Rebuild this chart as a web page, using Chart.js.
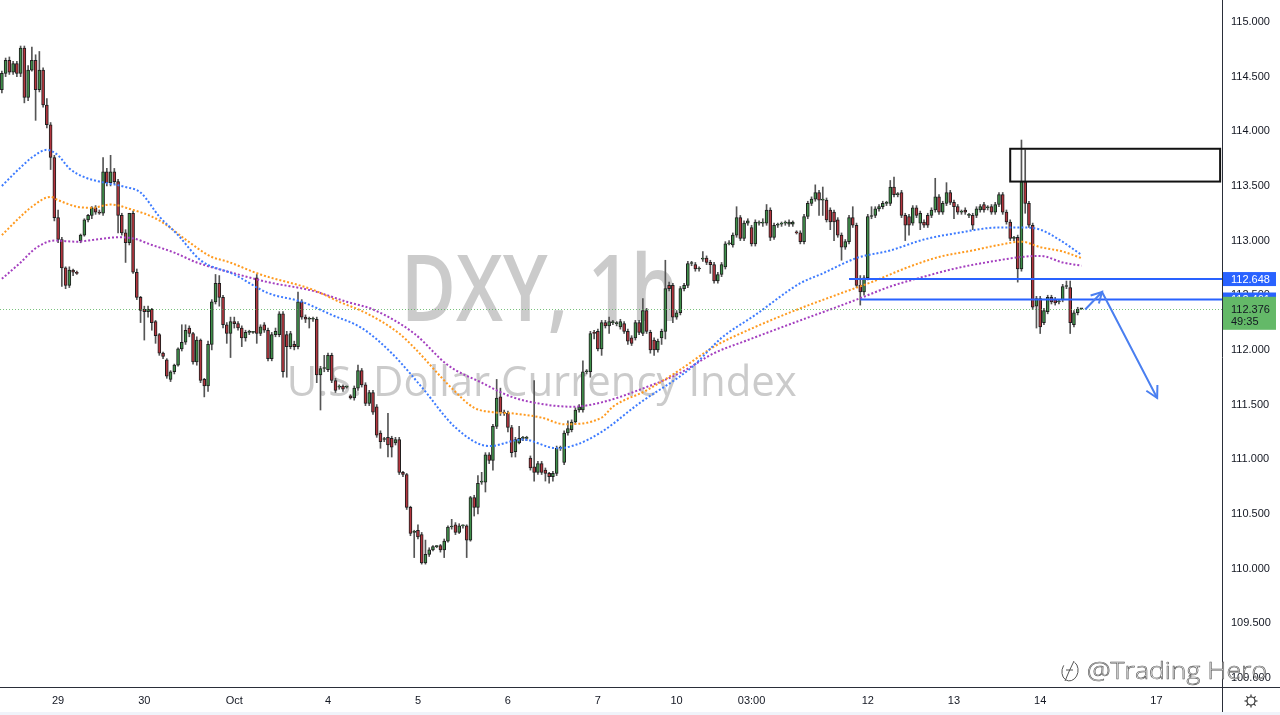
<!DOCTYPE html>
<html>
<head>
<meta charset="utf-8">
<title>DXY, 1h</title>
<script src="https://cdn.jsdelivr.net/npm/chart.js"></script>
<style>
  html, body { margin: 0; padding: 0; background: #ffffff; }
  #wrap { width: 1280px; height: 715px; position: relative; }
</style>
</head>
<body>
<div id="wrap"><canvas id="dxyChart" width="1280" height="715"></canvas></div>
<script>
// Hourly DXY candles (one row = 10 candles)
const opens = [
  114.38,114.53,114.65,114.54,114.62,114.53,114.76,114.31,114.56,114.65,
  114.38,114.56,114.24,114.06,113.76,113.21,113.01,112.75,112.59,112.73,
  112.71,113.00,113.05,113.19,113.23,113.30,113.26,113.25,113.63,113.53,
  113.63,113.54,113.23,113.07,112.98,113.25,112.71,112.48,112.37,112.35,
  112.37,112.26,112.14,111.97,111.91,111.73,111.80,111.86,112.01,112.07,
  112.20,112.15,111.89,112.09,111.73,111.67,112.05,112.44,112.61,112.48,
  112.23,112.15,112.26,112.24,112.20,112.11,112.16,112.16,112.66,112.15,
  112.23,112.18,111.92,112.14,112.14,112.33,112.14,112.03,112.05,112.03,
  112.44,112.30,112.28,112.28,112.28,111.77,111.83,111.82,111.95,111.72,
  111.66,111.67,111.66,111.58,111.56,111.65,111.81,111.68,111.51,111.61,
  111.48,111.24,111.18,111.20,111.19,111.15,111.18,110.88,110.86,110.56,
  110.33,110.35,110.31,110.05,110.13,110.17,110.20,110.21,110.17,110.25,
  110.38,110.40,110.33,110.39,110.39,110.26,110.65,110.56,110.79,110.79,
  111.04,110.99,111.30,111.57,111.43,111.42,111.29,111.07,111.15,111.19,
  111.19,111.01,110.93,110.88,110.96,110.90,110.87,110.84,110.87,111.10,
  110.97,111.24,111.27,111.34,111.45,111.45,111.80,111.80,112.16,112.17,
  112.01,112.25,112.22,112.25,112.24,112.21,112.24,112.17,112.11,112.11,
  112.25,112.15,112.36,112.16,112.09,112.00,112.11,112.17,112.59,112.59,
  112.30,112.34,112.56,112.59,112.79,112.78,112.74,112.83,112.84,112.80,
  112.78,112.63,112.69,112.76,112.97,112.96,113.05,113.21,113.02,113.16,
  113.12,112.97,113.16,113.16,113.16,113.28,113.03,113.14,113.15,113.16,
  113.15,113.15,113.08,113.07,112.99,113.22,113.34,113.38,113.44,113.37,
  113.37,113.28,113.26,113.19,113.05,112.94,112.99,113.21,113.14,112.59,
  112.53,112.66,113.22,113.23,113.29,113.31,113.34,113.34,113.49,113.42,
  113.44,113.23,113.22,113.16,113.30,113.16,113.17,113.23,113.23,113.28,
  113.40,113.26,113.34,113.44,113.35,113.31,113.26,113.28,113.23,113.23,
  113.23,113.28,113.33,113.30,113.31,113.26,113.33,113.42,113.26,113.17,
  113.02,113.03,112.74,113.54,113.34,113.14,112.40,112.47,112.25,112.35,
  112.48,112.46,112.44,112.46,112.58,112.57,112.23,112.34,112.376
];
const highs = [
  114.55,114.67,114.68,114.64,114.64,114.78,114.78,114.60,114.77,114.70,
  114.73,114.58,114.30,114.08,113.78,113.28,113.03,112.76,112.76,112.74,
  112.72,113.06,113.20,113.24,113.31,113.32,113.28,113.76,113.66,113.78,
  113.66,113.56,113.25,113.10,113.25,113.27,112.74,112.49,112.40,112.40,
  112.38,112.27,112.15,111.98,111.92,111.81,111.87,112.02,112.23,112.23,
  112.22,112.16,112.12,112.10,111.74,112.08,112.46,112.69,112.68,112.50,
  112.25,112.30,112.30,112.26,112.22,112.18,112.18,112.17,112.69,112.23,
  112.25,112.20,112.16,112.20,112.35,112.35,112.17,112.17,112.08,112.53,
  112.46,112.32,112.30,112.30,112.30,111.85,111.95,111.97,111.97,111.74,
  111.68,111.68,111.67,111.59,111.67,111.86,111.83,111.70,111.63,111.63,
  111.50,111.26,111.20,111.42,111.21,111.20,111.20,110.89,110.87,110.57,
  110.35,110.40,110.33,110.26,110.19,110.21,110.21,110.22,110.27,110.39,
  110.45,110.42,110.41,110.40,110.40,110.66,110.67,110.85,110.88,111.06,
  111.06,111.32,111.73,111.65,111.45,111.44,111.31,111.20,111.30,111.21,
  111.21,111.03,111.72,110.98,110.98,110.92,110.88,110.89,111.12,111.12,
  111.26,111.35,111.36,111.47,111.50,111.90,111.82,112.17,112.18,112.19,
  112.27,112.27,112.30,112.27,112.26,112.28,112.26,112.19,112.13,112.27,
  112.27,112.47,112.38,112.18,112.11,112.10,112.19,112.82,112.62,112.61,
  112.36,112.58,112.61,112.81,112.81,112.80,112.76,112.90,112.86,112.82,
  112.80,112.71,112.80,112.99,113.00,113.07,113.31,113.23,113.18,113.20,
  113.14,113.19,113.18,113.20,113.33,113.30,113.16,113.16,113.17,113.18,
  113.19,113.18,113.09,113.09,113.24,113.36,113.40,113.51,113.46,113.49,
  113.39,113.30,113.28,113.21,113.07,113.01,113.23,113.31,113.16,112.68,
  112.68,113.24,113.31,113.31,113.33,113.36,113.36,113.55,113.58,113.44,
  113.46,113.25,113.24,113.32,113.32,113.27,113.19,113.25,113.30,113.57,
  113.42,113.36,113.53,113.46,113.37,113.33,113.28,113.30,113.25,113.25,
  113.31,113.33,113.35,113.32,113.33,113.35,113.44,113.44,113.28,113.19,
  113.04,113.05,113.92,113.83,113.36,113.16,112.49,112.49,112.38,112.50,
  112.50,112.48,112.46,112.60,112.63,112.63,112.36,112.39,112.38
];
const lows = [
  114.35,114.50,114.52,114.52,114.50,114.50,114.26,114.28,114.55,114.10,
  114.36,114.22,114.03,113.65,113.18,112.98,112.58,112.56,112.57,112.68,
  112.69,112.98,113.04,113.17,113.20,113.24,113.24,113.23,113.50,113.50,
  113.52,113.07,113.05,112.80,112.96,112.70,112.46,112.25,112.09,112.30,
  112.18,112.06,111.95,111.92,111.74,111.71,111.78,111.85,111.99,112.05,
  112.12,111.87,111.86,111.70,111.57,111.62,112.00,112.42,112.40,112.20,
  112.06,111.93,112.20,112.18,112.03,112.08,112.14,112.15,112.06,112.13,
  112.16,111.90,111.90,112.12,112.12,111.75,111.75,112.01,112.00,112.01,
  112.28,112.25,112.20,112.26,111.70,111.45,111.80,111.80,111.70,111.61,
  111.64,111.62,111.65,111.55,111.54,111.63,111.66,111.49,111.49,111.41,
  111.20,111.10,111.16,111.02,111.02,111.13,110.86,110.84,110.54,110.30,
  110.10,110.27,110.04,110.04,110.11,110.16,110.19,110.15,110.10,110.24,
  110.36,110.31,110.32,110.37,110.10,110.25,110.48,110.50,110.77,110.70,
  110.96,110.90,111.28,111.40,111.40,111.25,111.02,111.02,111.14,111.17,
  111.17,110.90,110.80,110.86,110.86,110.80,110.78,110.80,110.85,111.08,
  110.95,111.22,111.25,111.32,111.43,111.43,111.78,111.75,112.10,111.99,
  111.95,112.20,112.15,112.23,112.22,112.19,112.15,112.05,112.04,112.09,
  112.14,112.13,112.15,111.97,111.95,111.98,112.05,112.10,112.54,112.25,
  112.28,112.32,112.54,112.57,112.77,112.72,112.72,112.81,112.78,112.70,
  112.61,112.61,112.67,112.74,112.96,112.94,113.03,113.00,113.00,113.14,
  112.95,112.95,113.14,113.13,113.14,113.00,113.01,113.12,113.13,113.14,
  113.13,113.13,113.06,112.97,112.97,113.20,113.32,113.36,113.23,113.23,
  113.17,113.10,113.00,113.03,112.82,112.92,112.97,113.12,112.57,112.41,
  112.50,112.64,113.20,113.21,113.27,113.29,113.32,113.32,113.40,113.40,
  113.21,113.00,113.05,113.14,113.21,113.10,113.12,113.12,113.21,113.26,
  113.24,113.24,113.32,113.33,113.20,113.24,113.24,113.24,113.21,113.10,
  113.21,113.26,113.26,113.28,113.24,113.24,113.31,113.24,113.15,113.00,
  113.00,112.62,112.72,113.25,113.12,112.37,112.20,112.15,112.23,112.33,
  112.42,112.41,112.42,112.44,112.56,112.15,112.21,112.32,112.37
];
const closes = [
  114.53,114.65,114.54,114.62,114.53,114.76,114.31,114.56,114.65,114.38,
  114.56,114.24,114.06,113.76,113.21,113.01,112.75,112.59,112.73,112.71,
  112.70,113.05,113.19,113.23,113.30,113.26,113.25,113.63,113.53,113.63,
  113.54,113.23,113.07,112.98,113.25,112.71,112.48,112.36,112.35,112.37,
  112.25,112.13,111.97,111.94,111.76,111.80,111.86,112.01,112.07,112.18,
  112.15,111.89,112.09,111.72,111.67,112.05,112.44,112.61,112.48,112.23,
  112.15,112.26,112.24,112.20,112.11,112.16,112.16,112.16,112.15,112.21,
  112.18,111.92,112.14,112.17,112.33,111.80,112.03,112.15,112.03,112.44,
  112.30,112.28,112.28,112.28,111.77,111.83,111.83,111.95,111.72,111.63,
  111.66,111.64,111.66,111.56,111.65,111.81,111.68,111.51,111.61,111.43,
  111.22,111.16,111.18,111.13,111.11,111.18,110.88,110.86,110.56,110.32,
  110.33,110.29,110.05,110.13,110.17,110.20,110.20,110.17,110.25,110.38,
  110.38,110.33,110.39,110.39,110.26,110.65,110.56,110.78,110.79,111.04,
  110.99,111.30,111.56,111.43,111.42,111.29,111.06,111.18,111.19,111.19,
  111.19,110.92,110.88,110.96,110.88,110.87,110.84,110.87,111.10,111.10,
  111.24,111.28,111.34,111.45,111.48,111.80,111.80,112.15,112.15,112.01,
  112.25,112.22,112.26,112.25,112.24,112.26,112.17,112.08,112.06,112.25,
  112.16,112.36,112.17,112.00,112.00,112.08,112.17,112.56,112.56,112.30,
  112.34,112.56,112.59,112.79,112.79,112.74,112.74,112.83,112.80,112.78,
  112.63,112.69,112.78,112.97,112.98,113.05,113.21,113.02,113.16,113.18,
  112.97,113.17,113.16,113.17,113.28,113.03,113.14,113.15,113.15,113.16,
  113.17,113.17,113.07,112.99,113.22,113.34,113.38,113.44,113.37,113.37,
  113.19,113.17,113.17,113.05,112.94,112.99,113.21,113.14,112.59,112.53,
  112.66,113.22,113.22,113.29,113.31,113.34,113.34,113.49,113.42,113.42,
  113.23,113.14,113.14,113.30,113.23,113.25,113.14,113.14,113.28,113.40,
  113.26,113.34,113.44,113.35,113.31,113.26,113.26,113.26,113.23,113.14,
  113.29,113.31,113.28,113.30,113.26,113.33,113.42,113.26,113.17,113.02,
  113.02,112.74,113.54,113.34,113.14,112.39,112.47,112.21,112.36,112.48,
  112.44,112.43,112.44,112.58,112.58,112.25,112.34,112.37,112.376
];

// Moving averages, sampled along the dotted curves: [candle index, price]
const maBlue = [
  [0,113.50],[5,113.67],[8,113.76],[12,113.83],[15,113.78],[18,113.66],[22,113.58],[26,113.54],
  [33,113.49],[37,113.44],[42,113.22],[47,113.05],[53,112.82],[62,112.69],[71,112.52],[80,112.44],
  [88,112.32],[96,112.20],[104,111.97],[112,111.66],[121,111.29],[130,111.12],[139,111.18],[148,111.10],
  [153,111.13],[160,111.25],[170,111.51],[184,111.84],[192,112.11],[201,112.32],[213,112.61],[219,112.70],
  [228,112.84],[237,112.91],[246,113.01],[255,113.07],[266,113.12],[272,113.12],[277,113.10],[282,113.01],
  [288,112.87]
];
const maOrange = [
  [0,113.05],[5,113.22],[8,113.31],[13,113.40],[15,113.37],[20,113.31],[24,113.30],[29,113.33],
  [35,113.28],[40,113.22],[44,113.14],[49,113.01],[56,112.85],[60,112.81],[69,112.69],[83,112.55],
  [90,112.44],[97,112.34],[106,112.15],[110,112.02],[120,111.65],[126,111.47],[131,111.43],[136,111.42],
  [144,111.38],[150,111.32],[160,111.38],[163,111.48],[172,111.63],[181,111.82],[190,112.03],[199,112.18],
  [213,112.38],[224,112.52],[232,112.62],[242,112.76],[250,112.85],[259,112.91],[266,112.96],[272,112.99],
  [277,112.94],[283,112.90],[288,112.84]
];
const maPurple = [
  [0,112.65],[5,112.80],[9,112.93],[14,113.00],[20,112.99],[25,113.01],[31,113.03],[35,113.02],
  [40,112.96],[46,112.89],[52,112.80],[62,112.70],[71,112.62],[83,112.54],[92,112.44],[99,112.37],
  [110,112.15],[119,111.86],[128,111.70],[136,111.57],[145,111.50],[152,111.48],[160,111.52],[172,111.66],
  [181,111.79],[190,111.97],[199,112.09],[213,112.27],[221,112.37],[228,112.46],[237,112.58],[246,112.67],
  [255,112.75],[266,112.82],[272,112.85],[277,112.86],[283,112.80],[288,112.77]
];

// time axis: slot index -> label
const dateTicks = [
  [15,'29'],[38,'30'],[62,'Oct'],[87,'4'],[111,'5'],[135,'6'],[159,'7'],
  [180,'10'],[200,'03:00'],[231,'12'],[254,'13'],[277,'14'],[308,'17']
];
const totalSlots = 326;        // candles plus empty space on the right
const priceMin = 108.916;
const priceMax = 115.201;
const lastPrice = 112.376;
const countdown = '49:35';

// drawings on the chart
const levels = [{price: 112.648, from: 226}, {price: 112.461, from: 229}];
const zone = {from: 269, to: 325, top: 113.84, bottom: 113.54};
const arrowPath = [[289, 112.37], [293.5, 112.53], [308.2, 111.56]];

const upColor = '#3f8f4a';
const downColor = '#b3353e';
const lineBlue = '#2962ff';

const timeLabels = Array.from({length: totalSlots}, () => '');
dateTicks.forEach(([i, t]) => { timeLabels[i] = t; });

function sparse(samples) {
  const arr = new Array(opens.length).fill(null);
  samples.forEach(([i, v]) => { arr[i] = v; });
  return arr;
}

function fitText(ctx, text, font, width) {
  ctx.font = font;
  return width / ctx.measureText(text).width;
}

function stretchedText(ctx, text, cx, baseline, font, width) {
  const sx = fitText(ctx, text, font, width);
  ctx.save();
  ctx.translate(cx, baseline);
  ctx.scale(sx, 1);
  ctx.textAlign = 'center';
  ctx.fillText(text, 0, 0);
  ctx.restore();
}

function arrowHead(ctx, from, to, len) {
  const a = Math.atan2(to[1] - from[1], to[0] - from[0]);
  ctx.beginPath();
  ctx.moveTo(to[0] - len * Math.cos(a - 0.5), to[1] - len * Math.sin(a - 0.5));
  ctx.lineTo(to[0], to[1]);
  ctx.lineTo(to[0] - len * Math.cos(a + 0.5), to[1] - len * Math.sin(a + 0.5));
  ctx.stroke();
}

const overlay = {
  id: 'overlay',
  beforeDatasetsDraw(chart) {
    const ctx = chart.ctx;
    const x = chart.scales.x;
    const cx = (x.getPixelForValue(104) + x.getPixelForValue(183)) / 2;
    ctx.save();
    ctx.fillStyle = '#cbcbcb';
    stretchedText(ctx, 'DXY, 1h', cx, 321, '600 92px "Open Sans"', 278);
    stretchedText(ctx, 'U.S. Dollar Currency Index', cx + 2, 396, '500 42px "Open Sans"', 510);
    ctx.restore();
  },
  afterDatasetsDraw(chart) {
    const {ctx, chartArea} = chart;
    const x = chart.scales.x, y = chart.scales.y;
    ctx.save();

    // last price dotted line
    ctx.strokeStyle = 'rgba(76,175,80,0.75)';
    ctx.lineWidth = 1;
    ctx.setLineDash([1, 2]);
    ctx.beginPath();
    const ly = Math.round(y.getPixelForValue(lastPrice)) + 0.5;
    ctx.moveTo(chartArea.left, ly);
    ctx.lineTo(chartArea.right, ly);
    ctx.stroke();
    ctx.setLineDash([]);

    // support / resistance levels
    ctx.strokeStyle = lineBlue;
    ctx.lineWidth = 2;
    levels.forEach(l => {
      const py = y.getPixelForValue(l.price);
      ctx.beginPath();
      ctx.moveTo(x.getPixelForValue(l.from), py);
      ctx.lineTo(chartArea.right, py);
      ctx.stroke();
    });

    // supply zone box
    ctx.strokeStyle = '#111111';
    ctx.lineWidth = 2;
    const bx = x.getPixelForValue(zone.from), bx2 = x.getPixelForValue(zone.to);
    const by = y.getPixelForValue(zone.top), by2 = y.getPixelForValue(zone.bottom);
    ctx.strokeRect(bx, by, bx2 - bx, by2 - by);

    // projected path arrow
    const pts = arrowPath.map(([i, p]) => [x.getPixelForValue(i), y.getPixelForValue(p)]);
    ctx.strokeStyle = '#4a7ff0';
    ctx.lineWidth = 2;
    ctx.beginPath();
    ctx.moveTo(pts[0][0], pts[0][1]);
    pts.slice(1).forEach(p => ctx.lineTo(p[0], p[1]));
    ctx.stroke();
    arrowHead(ctx, pts[0], pts[1], 12);
    arrowHead(ctx, pts[1], pts[2], 13);
    ctx.restore();
  },
  afterDraw(chart) {
    const {ctx, chartArea} = chart;
    const y = chart.scales.y;
    const W = chart.width, H = chart.height;
    ctx.save();

    // axis lines
    ctx.strokeStyle = '#2a2e39';
    ctx.lineWidth = 1;
    ctx.beginPath();
    ctx.moveTo(0, chartArea.bottom + 0.5);
    ctx.lineTo(W, chartArea.bottom + 0.5);
    ctx.moveTo(chartArea.right + 0.5, 0);
    ctx.lineTo(chartArea.right + 0.5, H);
    ctx.stroke();
    ctx.fillStyle = '#f0f3fa';
    ctx.fillRect(0, H - 3, W, 3);

    // price labels on the scale
    const boxL = chartArea.right + 1, boxW = 53;
    ctx.font = '11px "Liberation Sans"';
    ctx.textBaseline = 'middle';
    ctx.textAlign = 'left';
    levels.forEach(l => {
      const py = y.getPixelForValue(l.price);
      ctx.fillStyle = lineBlue;
      ctx.fillRect(boxL, py - 7, boxW, 14);
      ctx.fillStyle = '#ffffff';
      ctx.fillText(l.price.toFixed(3), boxL + 8, py + 0.5);
    });
    const gy = y.getPixelForValue(lastPrice);
    ctx.fillStyle = '#64b968';
    ctx.fillRect(boxL, gy - 12, boxW, 33);
    ctx.fillStyle = '#131722';
    ctx.fillText(lastPrice.toFixed(3), boxL + 8, gy + 1);
    ctx.fillText(countdown, boxL + 8, gy + 13);

    // author watermark
    ctx.textBaseline = 'alphabetic';
    const wx = W - 193, wy = chartArea.bottom - 8;
    const wFont = '300 24px "Open Sans"';
    const s = fitText(ctx, '@Trading Hero', wFont, 180);
    ctx.save();
    ctx.translate(wx, wy);
    ctx.scale(s, 1);
    ctx.fillStyle = '#ffffff';
    ctx.fillText('@Trading Hero', 0, 0);
    ctx.strokeStyle = '#555555';
    ctx.lineWidth = 0.6;
    ctx.strokeText('@Trading Hero', 0, 0);
    ctx.restore();
    // little logo
    ctx.strokeStyle = '#555555';
    ctx.lineWidth = 1;
    ctx.beginPath();
    ctx.ellipse(wx - 17, wy - 8, 8, 10, 0.2, -1.2, 3.6);
    ctx.stroke();
    ctx.beginPath();
    ctx.moveTo(wx - 22, wy + 2);
    ctx.quadraticCurveTo(wx - 18, wy - 8, wx - 13, wy - 18);
    ctx.moveTo(wx - 21, wy - 9);
    ctx.lineTo(wx - 14, wy - 9);
    ctx.stroke();

    // settings gear
    const gx = chartArea.right + 29, gyy = chartArea.bottom + 14;
    ctx.strokeStyle = '#333333';
    ctx.lineWidth = 1.2;
    ctx.beginPath();
    ctx.arc(gx, gyy, 4, 0, Math.PI * 2);
    ctx.stroke();
    for (let k = 0; k < 8; k++) {
      const a = k * Math.PI / 4;
      ctx.beginPath();
      ctx.moveTo(gx + 4 * Math.cos(a), gyy + 4 * Math.sin(a));
      ctx.lineTo(gx + 6.5 * Math.cos(a), gyy + 6.5 * Math.sin(a));
      ctx.stroke();
    }
    ctx.restore();
  }
};

const ctx = document.getElementById('dxyChart').getContext('2d');
new Chart(ctx, {
  type: 'bar',
  data: {
    labels: timeLabels,
    datasets: [
      {
        type: 'line', label: 'MA fast', data: sparse(maBlue),
        borderColor: '#3d7bff', borderWidth: 2, borderDash: [2, 2],
        pointRadius: 0, spanGaps: true, cubicInterpolationMode: 'monotone', order: 0
      },
      {
        type: 'line', label: 'MA mid', data: sparse(maOrange),
        borderColor: '#ff9a1f', borderWidth: 2, borderDash: [2, 2],
        pointRadius: 0, spanGaps: true, cubicInterpolationMode: 'monotone', order: 0
      },
      {
        type: 'line', label: 'MA slow', data: sparse(maPurple),
        borderColor: '#a43fbf', borderWidth: 2, borderDash: [2, 2],
        pointRadius: 0, spanGaps: true, cubicInterpolationMode: 'monotone', order: 0
      },
      {
        label: 'body', data: opens.map((o, i) => [o, closes[i]]),
        backgroundColor: closes.map((c, i) => c >= opens[i] ? upColor : downColor),
        borderColor: '#1e1e1e', borderWidth: 1, borderSkipped: false,
        barThickness: 3, minBarLength: 1, grouped: false, order: 1
      },
      {
        label: 'wick', data: lows.map((l, i) => [l, highs[i]]),
        backgroundColor: '#555555', barThickness: 1, grouped: false, order: 2
      }
    ]
  },
  options: {
    responsive: false,
    animation: false,
    layout: { padding: 0 },
    plugins: { legend: { display: false }, tooltip: { enabled: false } },
    scales: {
      x: {
        offset: true,
        grid: { display: false, drawTicks: false },
        border: { display: false },
        ticks: {
          autoSkip: false, maxRotation: 0, minRotation: 0, padding: 7,
          color: '#131722', font: { family: '"Liberation Sans"', size: 11 }
        },
        afterFit(s) { s.height = 28; s.paddingLeft = 0; s.paddingRight = 0; }
      },
      y: {
        position: 'right',
        min: priceMin, max: priceMax,
        grid: { display: false, drawTicks: false },
        border: { display: false },
        ticks: {
          stepSize: 0.5, includeBounds: false, padding: 9,
          color: '#131722', font: { family: '"Liberation Sans"', size: 11 },
          callback: v => v.toFixed(3)
        },
        afterFit(s) { s.width = 58; s.paddingTop = 0; s.paddingBottom = 0; }
      }
    }
  },
  plugins: [overlay]
});
</script>
</body>
</html>
